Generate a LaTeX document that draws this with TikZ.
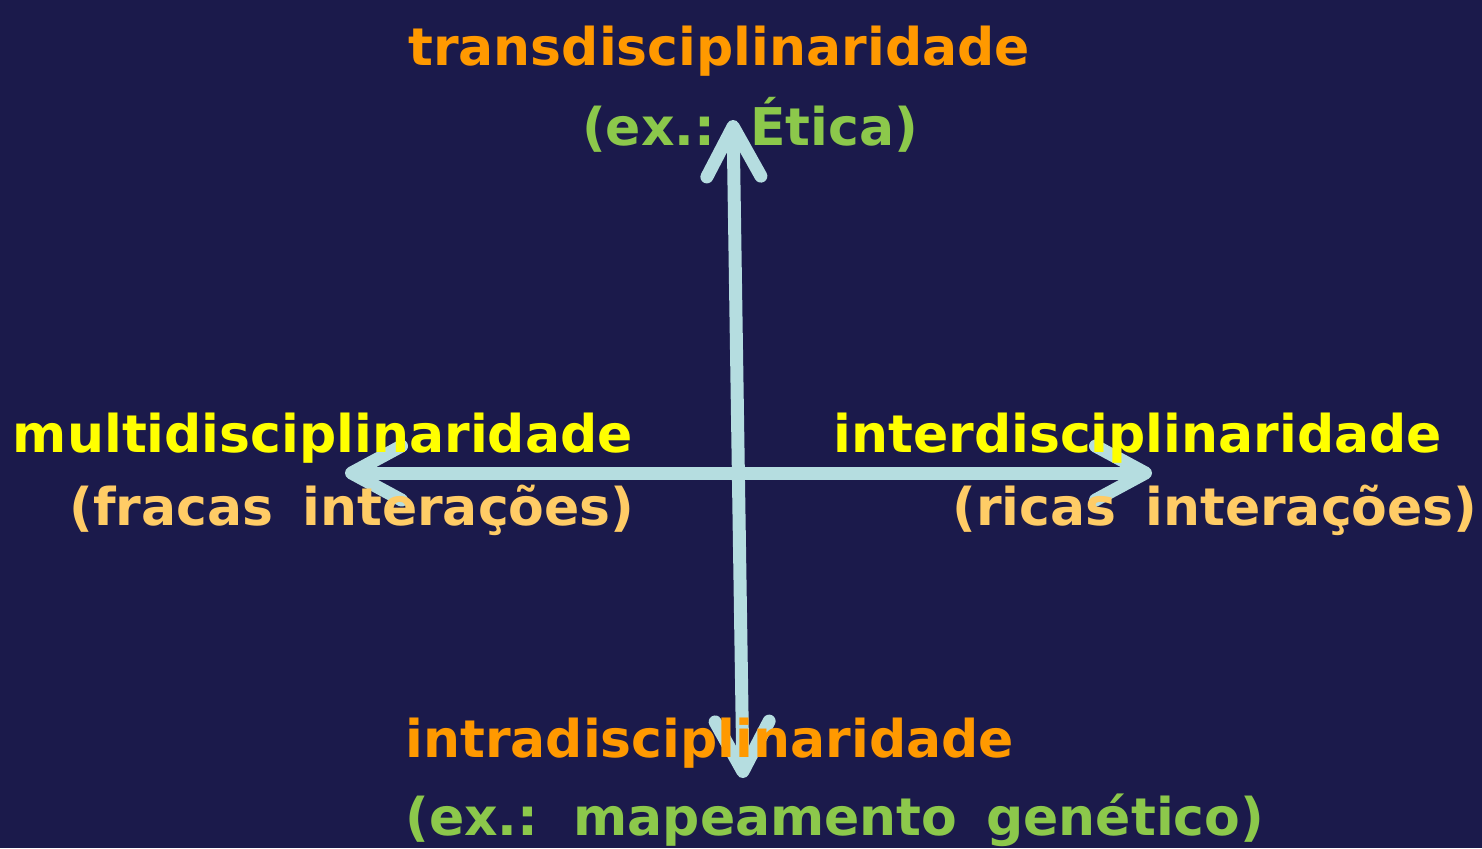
\documentclass[tikz,border=0pt]{standalone}
\usepackage{fontspec}
\setmainfont{DejaVu Sans}
\newfontfamily\notefont[WordSpace=1.6]{DejaVu Sans}
\usepackage{tikz}
\usetikzlibrary{arrows.meta,positioning,calc}

\definecolor{bgnavy}{HTML}{1B1A4B}
\definecolor{axisblue}{HTML}{B5DDE0}
\definecolor{labelorange}{HTML}{FF9900}
\definecolor{labelyellow}{HTML}{FFFF00}
\definecolor{notegreen}{HTML}{8CC84B}
\definecolor{notepeach}{HTML}{FFCC66}

\tikzset{
  lbl/.style={inner sep=0pt,font=\fontsize{26}{30}\selectfont\bfseries},
  note/.style={inner sep=0pt,font=\notefont\fontsize{26}{30}\selectfont\bfseries},
  axisline/.style={line width=6.5pt,color=axisblue,
    {Straight Barb[round,length=25pt,width=27pt]}-{Straight Barb[round,length=25pt,width=27pt]}}
}

\begin{document}
\begin{tikzpicture}[x=0.5pt,y=-0.5pt]
  % background
  \fill[bgnavy] (0,0) rectangle (1482,848);
  \useasboundingbox (0,0) rectangle (1482,848);

  % axis end points
  \coordinate (top) at (733,120);
  \coordinate (bot) at (743,778);
  \coordinate (lft) at (345,473);
  \coordinate (rgt) at (1152,473);

  % axes
  \draw[axisline] (lft) -- (rgt);
  \draw[axisline] (bot) -- (top);

  % top
  \node[lbl,anchor=base,text=labelorange] (trans) at (719,65) {transdisciplinaridade};
  \node[note,anchor=base,text=notegreen] (transex) at (750,145) {(ex.: Ética)};

  % left
  \node[lbl,anchor=base east,text=labelyellow] (multi) at (633,452) {multidisciplinaridade};
  \node[note,anchor=base east,text=notepeach] (multiex) at (635,525) {(fracas interações)};

  % right
  \node[lbl,anchor=base west,text=labelyellow] (inter) at (833,452) {interdisciplinaridade};
  \node[note,anchor=base east,text=notepeach] (interex) at (1478,525) {(ricas interações)};

  % bottom
  \node[lbl,anchor=base west,text=labelorange] (intra) at (405,757) {intradisciplinaridade};
  \node[note,anchor=base west,text=notegreen] (intraex) at (405,835) {(ex.: mapeamento genético)};
\end{tikzpicture}
\end{document}
